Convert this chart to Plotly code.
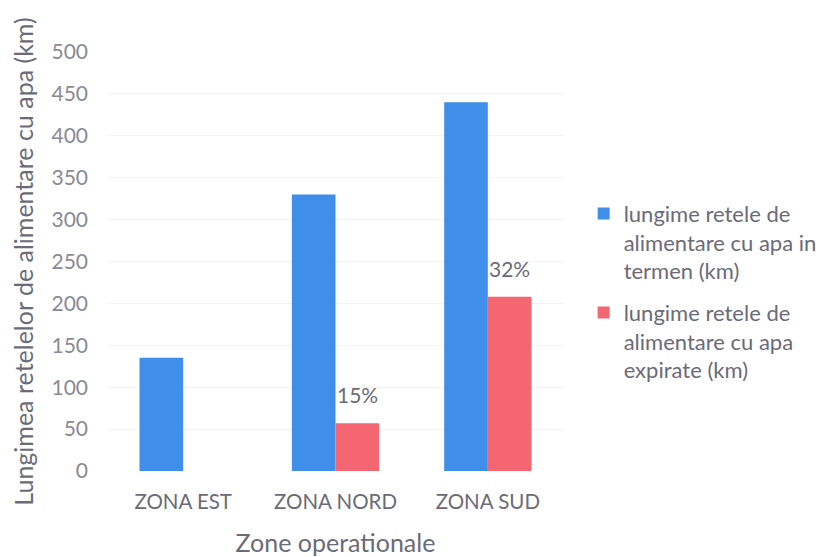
import plotly.graph_objects as go

categories = ["ZONA EST", "ZONA NORD", "ZONA SUD"]
in_termen = [135, 330, 440]
expirate = [None, 57, 208]
percent_labels = ["", "15%", "32%"]
y_ticks = [0, 50, 100, 150, 200, 250, 300, 350, 400, 450, 500]

FONT = "Lato, 'Open Sans', sans-serif"

fig = go.Figure()
fig.add_trace(go.Bar(
    x=categories, y=in_termen,
    name="lungime retele de<br>alimentare cu apa in<br>termen (km)",
    legendgroup="g1",
    marker=dict(color="#3f8ee9", line=dict(width=0)),
))
fig.add_trace(go.Bar(
    x=categories, y=expirate,
    name="lungime retele de<br>alimentare cu apa<br>expirate (km)",
    legendgroup="g2",
    marker=dict(color="#f36672", line=dict(width=0)),
))

for cat, val, lab in zip(categories, expirate, percent_labels):
    if lab and val is not None:
        fig.add_annotation(
            x=cat, y=val, xref="x", yref="y", text=lab, showarrow=False,
            xshift=22, yshift=14, yanchor="bottom",
            font=dict(family=FONT, size=21, color="#6b6b78"),
        )

fig.update_layout(
    width=829, height=557,
    margin=dict(l=95, r=273, t=44, b=94),
    paper_bgcolor="white", plot_bgcolor="white",
    barmode="group", bargap=0.427, bargroupgap=0,
    font=dict(family=FONT, size=20, color="#7a7a86"),
    showlegend=True,
    legend=dict(
        x=1.043, y=0.664, xanchor="left", yanchor="top",
        font=dict(family=FONT, size=22, color="#6b6b78"),
        valign="top", tracegroupgap=10, itemwidth=30,
    ),
    xaxis=dict(
        title=dict(text="Zone operationale", font=dict(size=25, color="#6b6b78"), standoff=22),
        showgrid=False, showline=False, zeroline=False,
        tickfont=dict(size=20.5, color="#6b6b78"),
        ticklabelstandoff=16,
    ),
    yaxis=dict(
        title=dict(text="Lungimea retelelor de alimentare cu apa (km)", font=dict(size=25, color="#6b6b78"), standoff=14),
        range=[0, 500], tickvals=y_ticks,
        showgrid=True, gridcolor="#f3f3f3", gridwidth=1,
        zeroline=False, showline=False,
        tickfont=dict(size=21, color="#8a8a94"),
        ticklabelstandoff=18,
    ),
)

fig.write_html("out.html")
